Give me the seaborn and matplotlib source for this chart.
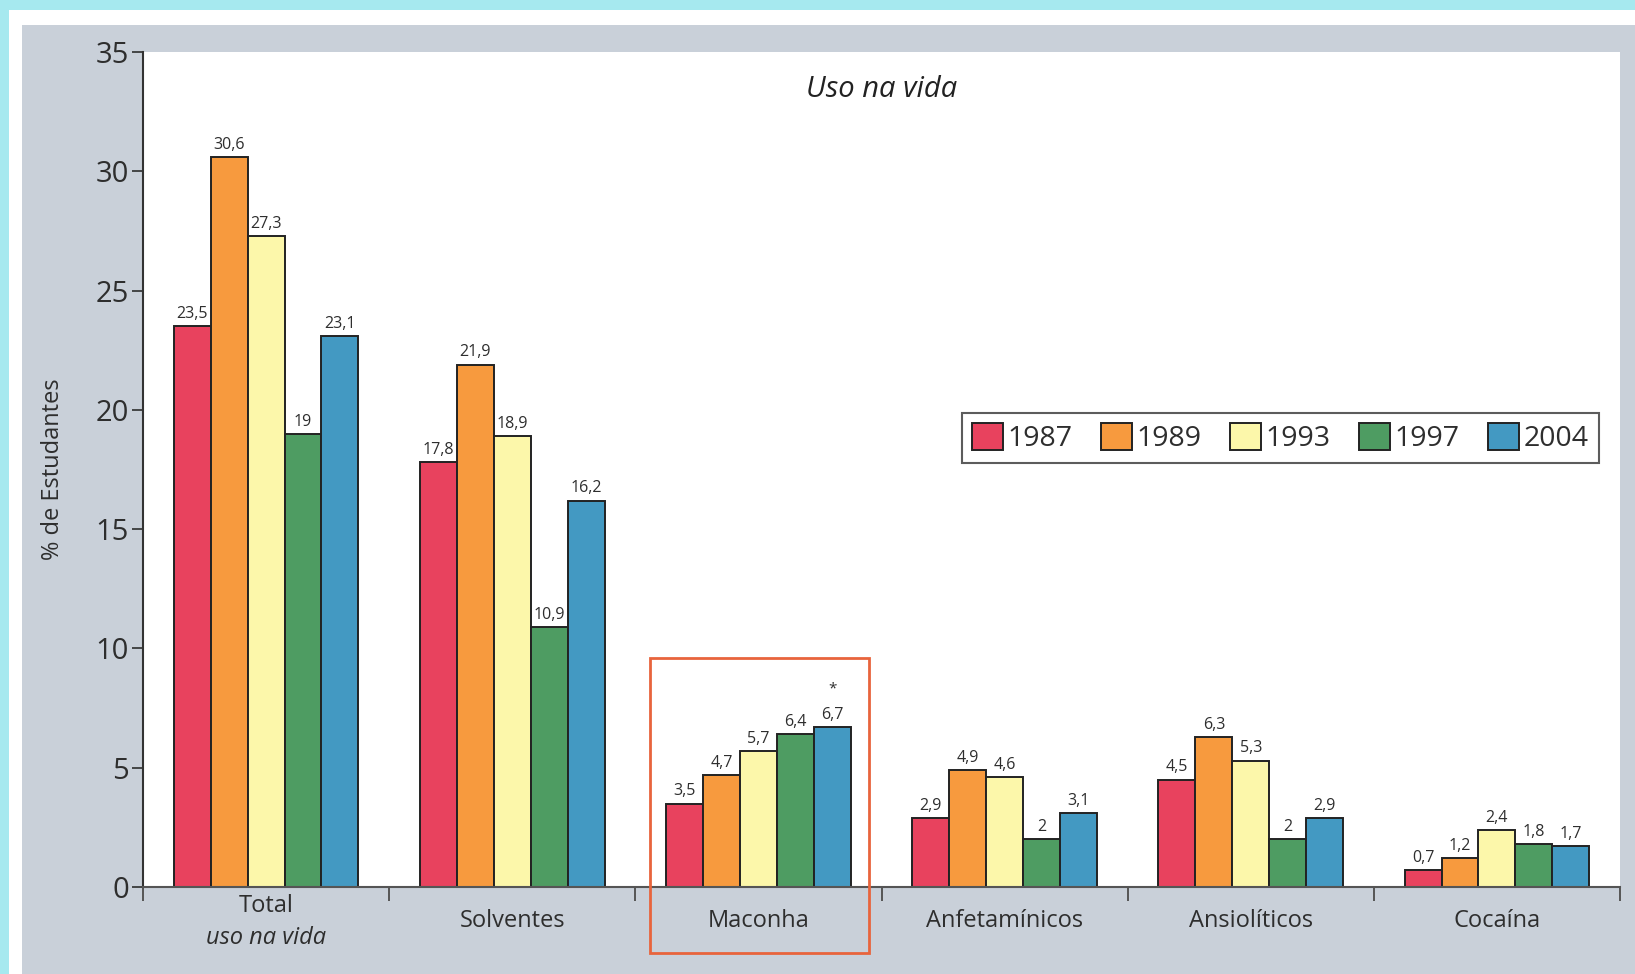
import matplotlib

matplotlib.use("Agg")
import matplotlib.pyplot as plt
import matplotlib.patches as mpatches
import pandas as pd
import seaborn as sns

categories = ["Total", "Solventes", "Maconha", "Anfetamínicos", "Ansiolíticos", "Cocaína"]
years = ["1987", "1989", "1993", "1997", "2004"]

uso_1987 = [23.5, 17.8, 3.5, 2.9, 4.5, 0.7]
uso_1989 = [30.6, 21.9, 4.7, 4.9, 6.3, 1.2]
uso_1993 = [27.3, 18.9, 5.7, 4.6, 5.3, 2.4]
uso_1997 = [19, 10.9, 6.4, 2, 2, 1.8]
uso_2004 = [23.1, 16.2, 6.7, 3.1, 2.9, 1.7]

colors = ["#e8425e", "#f79a3e", "#fcf7aa", "#4e9c62", "#4399c2"]

CYAN = "#a6e9ef"
GRAY = "#c9d0d9"
TXT = "#2e2e2e"


def fmt(v):
    # rótulos no formato brasileiro
    if float(v).is_integer():
        return f"{int(v)}"
    return f"{v:.1f}".replace(".", ",")


series = [uso_1987, uso_1989, uso_1993, uso_1997, uso_2004]
rows = []
for year, vals in zip(years, series):
    for cat, v in zip(categories, vals):
        rows.append({"categoria": cat, "ano": year, "pct": v})
df = pd.DataFrame(rows)

sns.set_style("ticks")
plt.rcParams["font.family"] = ["Open Sans", "DejaVu Sans"]

fig = plt.figure(figsize=(16.35, 9.74), dpi=100)
fig.patch.set_facecolor(CYAN)

# moldura: branco e painel cinza
W, H = 1635, 974
fig.patches.append(mpatches.Rectangle((9 / W, 0), 1, 1 - 10 / H, transform=fig.transFigure,
                                      facecolor="white", edgecolor="none", zorder=-3))
fig.patches.append(mpatches.Rectangle((22 / W, 0), 1, 1 - 25 / H, transform=fig.transFigure,
                                      facecolor=GRAY, edgecolor="none", zorder=-2))

ax = fig.add_axes([143 / W, 1 - 887 / H, (1620 - 143) / W, (887 - 52) / H])
ax.set_facecolor("white")

sns.barplot(
    data=df, x="categoria", y="pct", hue="ano", order=categories, hue_order=years,
    palette=colors, width=0.75, edgecolor="#222222", linewidth=1.4, saturation=1,
    ax=ax,
)

ax.set_xlim(-0.5, 5.5)
ax.set_ylim(0, 35)
ax.set_yticks(range(0, 36, 5))
ax.set_xlabel("")
ax.set_ylabel("% de Estudantes", fontsize=17, color=TXT, labelpad=22)

for side in ["top", "right"]:
    ax.spines[side].set_visible(False)
ax.spines["left"].set_color("#333333")
ax.spines["bottom"].set_color("#555555")
ax.spines["left"].set_linewidth(1.5)
ax.spines["bottom"].set_linewidth(1.5)

ax.tick_params(axis="y", labelsize=21, colors=TXT, length=8, width=1.2, pad=2)
ax.tick_params(axis="x", which="major", length=0, labelsize=17, labelcolor=TXT, pad=16)
ax.set_xticks([x - 0.5 for x in range(7)], minor=True)
ax.tick_params(axis="x", which="minor", length=10, width=1.4, color="#555555")

# "Total" em duas linhas, a segunda em itálico
ax.set_xticks(range(len(categories)))
ax.set_xticklabels([""] + categories[1:])
ax.annotate(categories[0], xy=(0, 0), xycoords=("data", "axes fraction"),
            xytext=(0, -14), textcoords="offset points", ha="center", va="center",
            fontsize=17, color=TXT)
ax.annotate("uso na vida", xy=(0, 0), xycoords=("data", "axes fraction"),
            xytext=(0, -37), textcoords="offset points", ha="center", va="center",
            fontsize=17, style="italic", color=TXT)

for cont, vals in zip(ax.containers, series):
    ax.bar_label(cont, labels=[fmt(v) for v in vals], padding=3, fontsize=11.5,
                 color=TXT)

# asterisco em maconha 2004
ax.annotate("*", xy=(2 + 0.3, uso_2004[2]), xytext=(0, 22), textcoords="offset points",
            ha="center", va="bottom", fontsize=11, color=TXT)

# destaque da maconha
ax.add_patch(mpatches.Rectangle((1.56, -2.75), 0.89, 12.35, fill=False,
                                edgecolor="#e8643c", linewidth=2, clip_on=False, zorder=5))

ax.text(0.5, 0.955, "Uso na vida", transform=ax.transAxes, ha="center", va="center",
        fontsize=21, style="italic", color="#222222")

leg = ax.legend(loc="center", bbox_to_anchor=(0.770, 0.538), ncol=5, fontsize=20.5,
                frameon=True, fancybox=False, handlelength=1.1, handleheight=1.1,
                handletextpad=0.15, columnspacing=1.0, borderpad=0.35, title=None)
leg.get_frame().set_edgecolor("#333333")
leg.get_frame().set_linewidth(1.5)
for t in leg.get_texts():
    t.set_color(TXT)

fig.savefig("out.png", dpi=100, facecolor=fig.get_facecolor())
